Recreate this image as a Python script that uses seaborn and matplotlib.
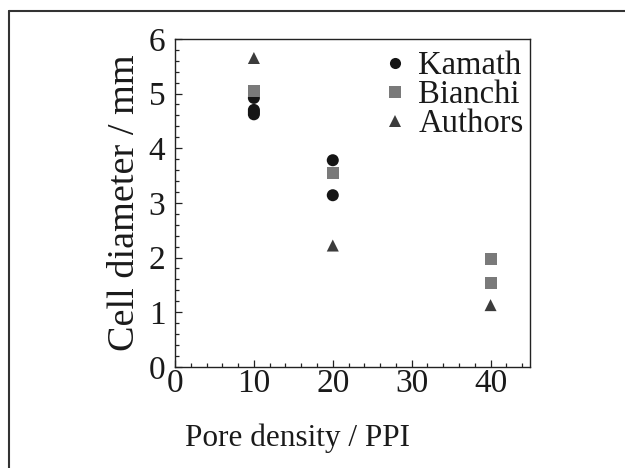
import matplotlib
matplotlib.use("Agg")
import matplotlib.pyplot as plt
from matplotlib.lines import Line2D
from matplotlib.ticker import MultipleLocator
import seaborn as sns
import pandas as pd

# Data
kamath_x = [10, 10, 10, 10, 20, 20]
kamath_y = [4.92, 4.70, 4.62, 4.66, 3.78, 3.14]
bianchi_x = [10, 20, 40, 40]
bianchi_y = [5.05, 3.55, 1.98, 1.53]
authors_x = [10, 20, 40]
authors_y = [5.65, 2.22, 1.13]

series = ["Kamath", "Bianchi", "Authors"]
x_label = "Pore density / PPI"
y_label = "Cell diameter / mm"

df = pd.concat([
    pd.DataFrame({"x": kamath_x, "y": kamath_y, "src": "Kamath"}),
    pd.DataFrame({"x": bianchi_x, "y": bianchi_y, "src": "Bianchi"}),
    pd.DataFrame({"x": authors_x, "y": authors_y, "src": "Authors"}),
], ignore_index=True)

sns.set_style("ticks")
plt.rcParams["font.family"] = ["Liberation Serif", "DejaVu Serif"]
plt.rcParams["mathtext.fontset"] = "stix"

fig = plt.figure(figsize=(6.25, 4.68), dpi=100)
ax = fig.add_axes([0.28, 0.216, 0.568, 0.701])

palette = {"Kamath": "#151515", "Bianchi": "#7a7a7a", "Authors": "#3c3c3c"}
markers = {"Kamath": "o", "Bianchi": "s", "Authors": "^"}
sns.scatterplot(data=df, x="x", y="y", hue="src", style="src",
                hue_order=series, style_order=series,
                palette=palette, markers=markers, s=75,
                edgecolor="none", linewidth=0, ax=ax, legend=False)

ax.set_xlim(0, 45)
ax.set_ylim(0, 6)
ax.xaxis.set_major_locator(MultipleLocator(10))
ax.xaxis.set_minor_locator(MultipleLocator(2))
ax.yaxis.set_major_locator(MultipleLocator(1))
ax.yaxis.set_minor_locator(MultipleLocator(0.2))
ax.tick_params(which="both", direction="in", colors="#222222", width=0.9,
               top=False, right=False, labelsize=24, labelcolor="#1a1a1a")
ax.tick_params(which="major", length=5)
ax.tick_params(which="minor", length=3)
ax.tick_params(axis="x", pad=1)
ax.tick_params(axis="y", pad=7)
for sp in ax.spines.values():
    sp.set_visible(True)
    sp.set_linewidth(1.0)
    sp.set_color("#222222")

ax.set_xlabel(x_label, fontsize=22.5, color="#1a1a1a")
ax.xaxis.set_label_coords(0.345, -0.172)
ax.set_ylabel(y_label, fontsize=27.5, color="#1a1a1a", labelpad=5)

handles = [Line2D([], [], linestyle="none", marker=markers[s], color=palette[s],
                  markersize=8, markeredgewidth=0) for s in series]
leg = ax.legend(handles, series, loc="upper right", frameon=False,
                bbox_to_anchor=(1.0, 0.983),
                fontsize=23.5, handlelength=0.6, handletextpad=0.4,
                labelspacing=-0.05, borderaxespad=0.0, borderpad=0.2)
for t in leg.get_texts():
    t.set_color("#1a1a1a")

# outer frame (top and left edges)
fig.add_artist(Line2D([9/625, 1.0], [1 - 11/468, 1 - 11/468], transform=fig.transFigure,
                      color="#333333", linewidth=1.5))
fig.add_artist(Line2D([9/625, 9/625], [0, 1 - 11/468], transform=fig.transFigure,
                      color="#333333", linewidth=1.5))

fig.savefig("out.png", dpi=100, facecolor="white")
